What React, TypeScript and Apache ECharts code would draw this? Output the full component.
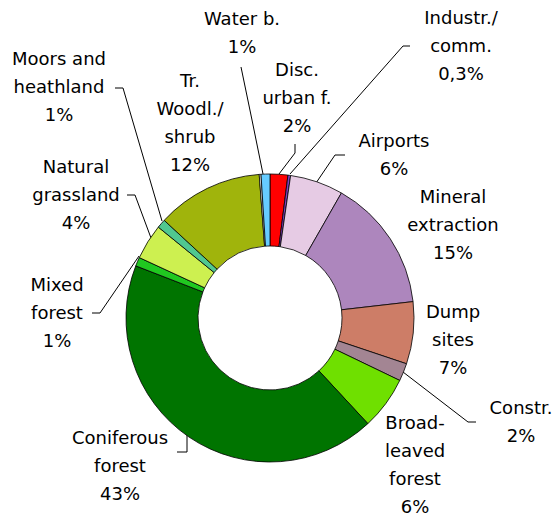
import { useEffect, useRef } from "react";
import * as echarts from "echarts";

// Land cover categories (clockwise from 12 o'clock)
const categories = [
  "Disc.\nurban f.",
  "Industr./\ncomm.",
  "Airports",
  "Mineral\nextraction",
  "Dump\nsites",
  "Constr.",
  "Broad-\nleaved\nforest",
  "Coniferous\nforest",
  "Mixed\nforest",
  "Natural\ngrassland",
  "Moors and\nheathland",
  "Tr.\nWoodl./\nshrub",
  "",
  "Water b.",
];
const values = [2, 0.3, 6, 15, 7, 2, 6, 43, 1, 4, 1, 12, 0.2, 1];
const pctLabels = ["2%", "0,3%", "6%", "15%", "7%", "2%", "6%", "43%", "1%", "4%", "1%", "12%", "", "1%"];

const colors = [
  "#ff0000", "#8040c0", "#e6cbe4", "#ad86bd", "#cd7d67", "#a38593", "#6fe000",
  "#007400", "#20c820", "#cdf050", "#50c890", "#a0b40c", "#ffffff", "#66ccff",
];

// label block centres (layout)
const labelCenters: [number, number][] = [
  [297, 97], [461, 45], [394, 154], [453, 224], [453, 339], [521, 421], [415, 464],
  [120, 465], [57, 312], [76, 194], [59, 86], [190, 122], [0, 0], [242, 32],
];
// leader lines (layout)
const leaderLines: (number[][] | null)[] = [
  [[279, 174], [295, 153], [295, 144]],
  [[290, 174], [403, 46], [410, 46]],
  [[316, 183], [335, 155], [345, 155]],
  null,
  null,
  [[403, 372], [468, 422], [476, 422]],
  null,
  [[187, 432], [187, 452], [177, 452]],
  [[139, 256], [100, 313], [92, 313]],
  [[151, 238], [135, 195], [127, 195]],
  [[162, 221], [123, 88], [115, 88]],
  null,
  null,
  [[263, 174], [252, 120], [241, 67]],
];

export default function App() {
  const ref = useRef<HTMLDivElement>(null);
  useEffect(() => {
    document.body.style.margin = "0";
    if (!ref.current) return;
    const chart = echarts.init(ref.current, undefined, { renderer: "svg" });
    const data = categories.map((name, i) => ({
      name: name || "other",
      value: values[i],
      itemStyle: { color: colors[i] },
      label: { show: pctLabels[i] !== "" },
      labelLine: { show: leaderLines[i] !== null },
    }));
    chart.setOption({
      animation: false,
      backgroundColor: "#ffffff",
      series: [
        {
          type: "pie",
          center: [270, 318],
          radius: [72, 144],
          startAngle: 90,
          clockwise: true,
          avoidLabelOverlap: false,
          itemStyle: { borderColor: "#000", borderWidth: 0.8 },
          emphasis: { disabled: true },
          label: {
            position: "outside",
            formatter: (p: any) => `${categories[p.dataIndex]}\n${pctLabels[p.dataIndex]}`,
            fontFamily: "DejaVu Sans",
            fontSize: 18,
            lineHeight: 28,
            color: "#000",
            align: "center",
          },
          labelLine: { lineStyle: { color: "#000", width: 1 } },
          labelLayout: (params: any) => {
            const i = params.dataIndex;
            const c = labelCenters[i];
            const out: any = { x: c[0], y: c[1], align: "center", verticalAlign: "middle" };
            if (leaderLines[i]) out.labelLinePoints = leaderLines[i];
            return out;
          },
          data,
        },
      ],
    });
    return () => chart.dispose();
  }, []);
  return <div ref={ref} style={{ width: 560, height: 518 }} />;
}
